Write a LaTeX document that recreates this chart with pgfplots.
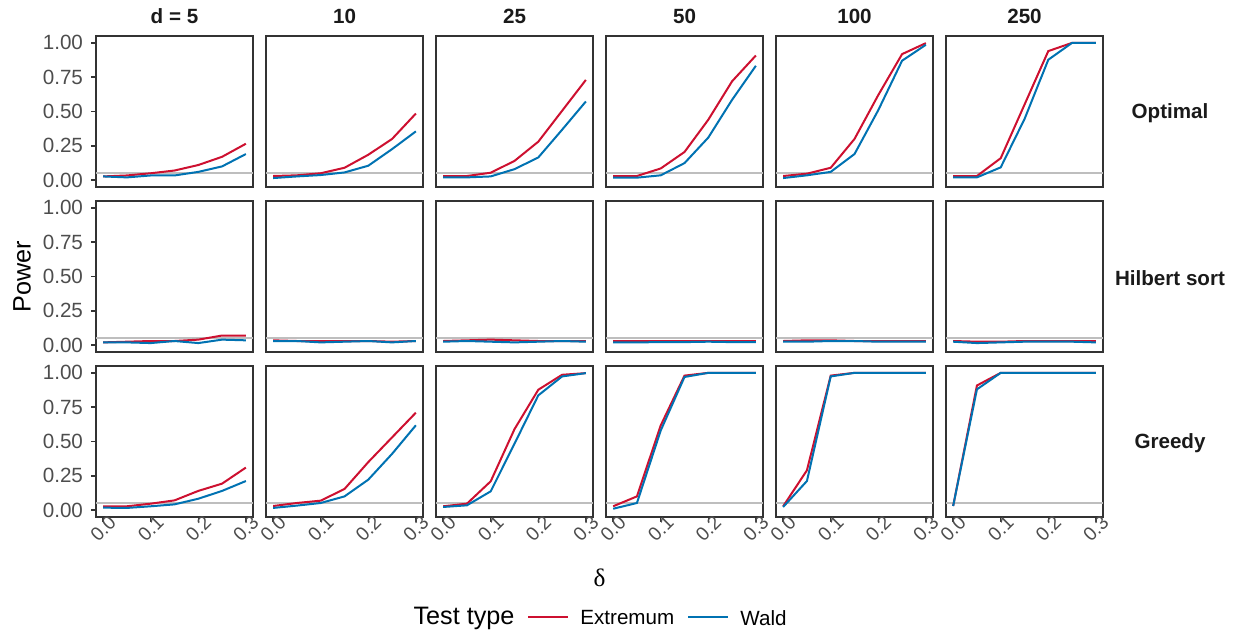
\documentclass[border=0pt]{standalone}
\usepackage{pgfplots}
\usepackage{pgfplotstable}
\pgfplotsset{compat=1.18}
\usepackage{fontspec}
\setmainfont{Liberation Sans}
\newfontfamily\greekserif{Liberation Serif}
\definecolor{cred}{RGB}{205,16,48}
\definecolor{cblue}{RGB}{0,114,178}
\definecolor{frame}{RGB}{51,51,51}
\definecolor{ticklab}{RGB}{77,77,77}
\definecolor{refgray}{RGB}{190,190,190}
\definecolor{striptext}{RGB}{26,26,26}

% Optimal
\pgfplotstableread{
x     e5    w5    e10   w10   e25   w25   e50   w50   e100  w100  e250  w250
0     0.027 0.027 0.030 0.015 0.030 0.020 0.030 0.018 0.030 0.015 0.030 0.020
0.05  0.034 0.020 0.035 0.027 0.030 0.020 0.030 0.018 0.047 0.035 0.030 0.020
0.10  0.050 0.034 0.050 0.037 0.054 0.027 0.085 0.035 0.090 0.060 0.160 0.093
0.15  0.070 0.034 0.090 0.056 0.140 0.080 0.205 0.124 0.300 0.190 0.550 0.445
0.20  0.110 0.060 0.185 0.105 0.280 0.165 0.440 0.310 0.620 0.510 0.940 0.877
0.25  0.170 0.100 0.300 0.226 0.505 0.367 0.720 0.585 0.918 0.870 1.000 1.000
0.30  0.265 0.190 0.485 0.355 0.730 0.573 0.908 0.833 0.998 0.986 1.000 1.000
}\optimal
% Hilbert sort
\pgfplotstableread{
x     e5    w5    e10   w10   e25   w25   e50   w50   e100  w100  e250  w250
0     0.020 0.020 0.035 0.030 0.030 0.025 0.030 0.020 0.030 0.025 0.030 0.025
0.05  0.025 0.020 0.030 0.030 0.035 0.030 0.030 0.020 0.035 0.025 0.025 0.015
0.10  0.030 0.015 0.030 0.020 0.040 0.025 0.030 0.022 0.035 0.030 0.025 0.020
0.15  0.030 0.030 0.030 0.025 0.035 0.020 0.030 0.022 0.030 0.030 0.030 0.025
0.20  0.040 0.015 0.030 0.030 0.030 0.025 0.030 0.025 0.030 0.025 0.030 0.025
0.25  0.070 0.040 0.025 0.020 0.030 0.030 0.030 0.022 0.030 0.025 0.030 0.025
0.30  0.070 0.035 0.030 0.030 0.030 0.025 0.030 0.022 0.030 0.025 0.030 0.020
}\hilbert
% Greedy
\pgfplotstableread{
x     e5    w5    e10   w10   e25   w25   e50   w50   e100  w100  e250  w250
0     0.028 0.018 0.030 0.016 0.028 0.023 0.028 0.010 0.028 0.023 0.030 0.030
0.05  0.028 0.016 0.052 0.033 0.047 0.035 0.100 0.052 0.290 0.212 0.908 0.880
0.10  0.047 0.028 0.069 0.052 0.210 0.137 0.617 0.580 0.980 0.974 1.000 1.000
0.15  0.071 0.042 0.154 0.100 0.590 0.484 0.980 0.970 1.000 1.000 1.000 1.000
0.20  0.140 0.083 0.350 0.222 0.877 0.836 1.000 1.000 1.000 1.000 1.000 1.000
0.25  0.193 0.140 0.530 0.410 0.986 0.974 1.000 1.000 1.000 1.000 1.000 1.000
0.30  0.310 0.212 0.710 0.618 0.998 0.998 1.000 1.000 1.000 1.000 1.000 1.000
}\greedy

\newcommand{\smallfont}{\fontsize{10.3}{12}\selectfont}
\newcommand{\xtickfont}{\fontsize{9.6}{11}\selectfont}
\newcommand{\largefont}{\fontsize{12.6}{14}\selectfont}

\pgfplotsset{
  panel/.style={
    scale only axis, width=78.5pt, height=75.5pt,
    xmin=-0.015, xmax=0.315, ymin=-0.05, ymax=1.05,
    axis line style={frame, line width=0.7pt},
    tick style={frame, line width=0.7pt},
    tick align=outside, major tick length=2.5pt,
    xtick=\empty, ytick=\empty,
    xtick pos=bottom, ytick pos=left,
    tick label style={font=\smallfont, text=ticklab},
    anchor=north west,
  },
  leftcol/.style={ytick={0,0.25,0.5,0.75,1}, yticklabels={0.00,0.25,0.50,0.75,1.00},
    yticklabel style={xshift=-0.5pt}},
  bottomrow/.style={xtick={0,0.1,0.2,0.3}, xticklabels={0.0,0.1,0.2,0.3},
    xticklabel style={font=\xtickfont, yshift=-3.4pt, rotate=45, anchor=center}},
}

\newcommand{\panel}[5]{%
  \begin{axis}[panel, at={(#1)}, #5]
    \addplot[refgray, line width=1pt] coordinates {(-0.015,0.05) (0.315,0.05)};
    \addplot[cred, line width=1pt] table[x=x, y=e#4] {#3};
    \addplot[cblue, line width=1pt] table[x=x, y=w#4] {#3};
  \end{axis}}

\begin{document}
\begin{tikzpicture}
\path (0,0) rectangle (619pt,-317.5pt);

% Row 1: Optimal
\panel{48pt,-18pt}{}{\optimal}{5}{leftcol}
\panel{133pt,-18pt}{}{\optimal}{10}{}
\panel{218pt,-18pt}{}{\optimal}{25}{}
\panel{303pt,-18pt}{}{\optimal}{50}{}
\panel{388pt,-18pt}{}{\optimal}{100}{}
\panel{473pt,-18pt}{}{\optimal}{250}{}
% Row 2: Hilbert sort
\panel{48pt,-100.5pt}{}{\hilbert}{5}{leftcol}
\panel{133pt,-100.5pt}{}{\hilbert}{10}{}
\panel{218pt,-100.5pt}{}{\hilbert}{25}{}
\panel{303pt,-100.5pt}{}{\hilbert}{50}{}
\panel{388pt,-100.5pt}{}{\hilbert}{100}{}
\panel{473pt,-100.5pt}{}{\hilbert}{250}{}
% Row 3: Greedy
\panel{48pt,-183pt}{}{\greedy}{5}{leftcol,bottomrow}
\panel{133pt,-183pt}{}{\greedy}{10}{bottomrow}
\panel{218pt,-183pt}{}{\greedy}{25}{bottomrow}
\panel{303pt,-183pt}{}{\greedy}{50}{bottomrow}
\panel{388pt,-183pt}{}{\greedy}{100}{bottomrow}
\panel{473pt,-183pt}{}{\greedy}{250}{bottomrow}

% strip labels (columns)
\foreach \cx/\lab in {87.25pt/{d = 5}, 172.25pt/10, 257.25pt/25, 342.25pt/50, 427.25pt/100, 512.25pt/250}
  \node[font=\smallfont\bfseries, text=striptext, inner sep=0pt] at (\cx,-8pt) {\lab};
% strip labels (rows)
\node[font=\smallfont\bfseries, text=striptext, inner sep=0pt] at (585pt,-56.5pt) {Optimal};
\node[font=\smallfont\bfseries, text=striptext, inner sep=0pt] at (585pt,-139pt) {Hilbert sort};
\node[font=\smallfont\bfseries, text=striptext, inner sep=0pt] at (585pt,-221.5pt) {Greedy};

% axis titles
\node[font=\largefont, rotate=90, inner sep=0pt] at (11pt,-138.25pt) {Power};
\node[font=\largefont\greekserif, inner sep=0pt] at (299.75pt,-289pt) {δ};

% legend
\node[font=\largefont, inner sep=0pt] at (232pt,-309pt) {Test type};
\draw[cred, line width=1pt] (264pt,-308.5pt) -- (284pt,-308.5pt);
\node[font=\smallfont, anchor=west, inner sep=0pt] at (290pt,-309pt) {Extremum};
\draw[cblue, line width=1pt] (344pt,-308.5pt) -- (364pt,-308.5pt);
\node[font=\smallfont, anchor=west, inner sep=0pt] at (370pt,-309pt) {Wald};
\end{tikzpicture}
\end{document}
